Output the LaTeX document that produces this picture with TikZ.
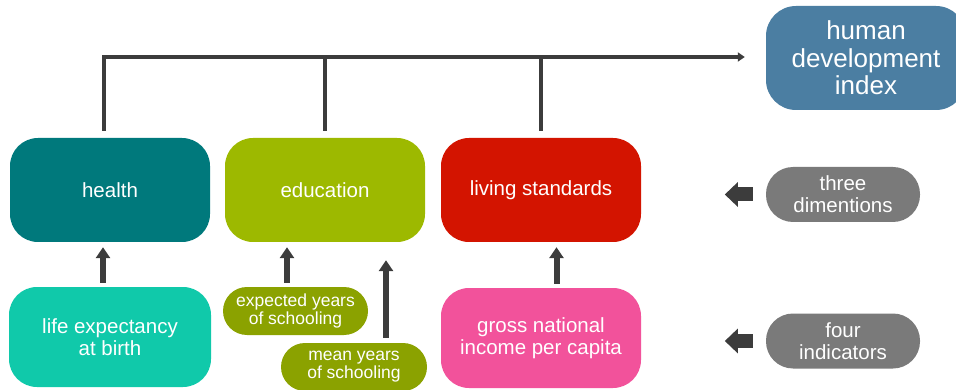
\documentclass[tikz,border=0pt]{standalone}
\usepackage{fontspec}
\setmainfont{Liberation Sans}
\usetikzlibrary{arrows.meta}
\begin{document}
\begin{tikzpicture}[x=1pt,y=-1pt,
  box/.style={text=white, align=center, inner sep=0pt, minimum width=200pt, minimum height=104pt, rounded corners=28pt, font=\fontsize{20.5}{22}\selectfont},
  pill/.style={box, minimum width=146pt, minimum height=48pt, rounded corners=24pt, font=\fontsize{17.5}{18}\selectfont},
  side/.style={box, fill=sidegray, minimum width=154pt, minimum height=55pt, rounded corners=27pt},
  bus/.style={draw=linegray, line width=3.5pt},
  uparrow/.style={draw=linegray, line width=6pt, -{Triangle[width=14pt,length=11pt]}},
  leftarrow/.style={draw=linegray, line width=14pt, -{Triangle[width=24pt,length=13pt]}}]
\definecolor{linegray}{HTML}{3C3C3C}
\definecolor{sidegray}{HTML}{7A7A7A}
\definecolor{hdiblue}{HTML}{4B7EA2}
\definecolor{healthteal}{HTML}{00797C}
\definecolor{edugreen}{HTML}{9DB900}
\definecolor{livingred}{HTML}{D31400}
\definecolor{lifeturq}{HTML}{10C9AA}
\definecolor{schoololive}{HTML}{8BA200}
\definecolor{grosspink}{HTML}{F2529B}
\useasboundingbox (0,0) rectangle (956,390);
\node[box, fill=hdiblue, minimum height=104pt, rounded corners=30pt, font=\fontsize{26}{27.5}\selectfont] (hdi) at (866,58) {human\\development\\index};
\node[box, fill=healthteal] (health) at (110,190) {health};
\node[box, fill=edugreen] (edu) at (325,190) {education};
\node[box, fill=livingred] (living) at (541,190) {living standards};
\node[box, fill=lifeturq, minimum width=202pt, minimum height=100pt] (life) at (110,337) {life expectancy\\at birth};
\node[pill, fill=schoololive, minimum width=145pt] (expected) at (295.5,311) {expected years\\of schooling};
\node[pill, fill=schoololive] (mean) at (354,367) {mean years\\of schooling};
\node[box, fill=grosspink, minimum height=100pt] (gross) at (541,338) {gross national\\income per capita};
\node[side] (three) at (843,194.5) {three\\dimentions};
\node[side] (four) at (843,341) {four\\indicators};
\coordinate (top) at (0,57);
\draw[bus, -{Triangle[width=9pt,length=7pt]}] ([xshift=-6pt,yshift=7pt]health.north) |- ([xshift=-21pt]hdi.west |- top);
\foreach \n in {edu,living} \draw[bus] ([yshift=7pt]\n.north) -- (\n.north |- top);
\draw[uparrow, shorten >=5pt] ([xshift=-7pt,yshift=4pt]life.north) -- ([xshift=-7pt]life.north |- health.south);
\draw[uparrow, shorten >=5pt] ([xshift=-8.5pt,yshift=4pt]expected.north) -- ([xshift=-8.5pt]expected.north |- edu.south);
\draw[uparrow, shorten >=18pt] ([xshift=32pt,yshift=5pt]mean.north) -- ([xshift=32pt]mean.north |- edu.south);
\draw[uparrow, shorten >=5pt] ([xshift=15.5pt,yshift=4pt]gross.north) -- ([xshift=15.5pt]gross.north |- living.south);
\draw[leftarrow] ([xshift=-13pt]three.west) -- ([xshift=-41pt]three.west);
\draw[leftarrow] ([xshift=-13pt]four.west) -- ([xshift=-41pt]four.west);
\end{tikzpicture}
\end{document}
